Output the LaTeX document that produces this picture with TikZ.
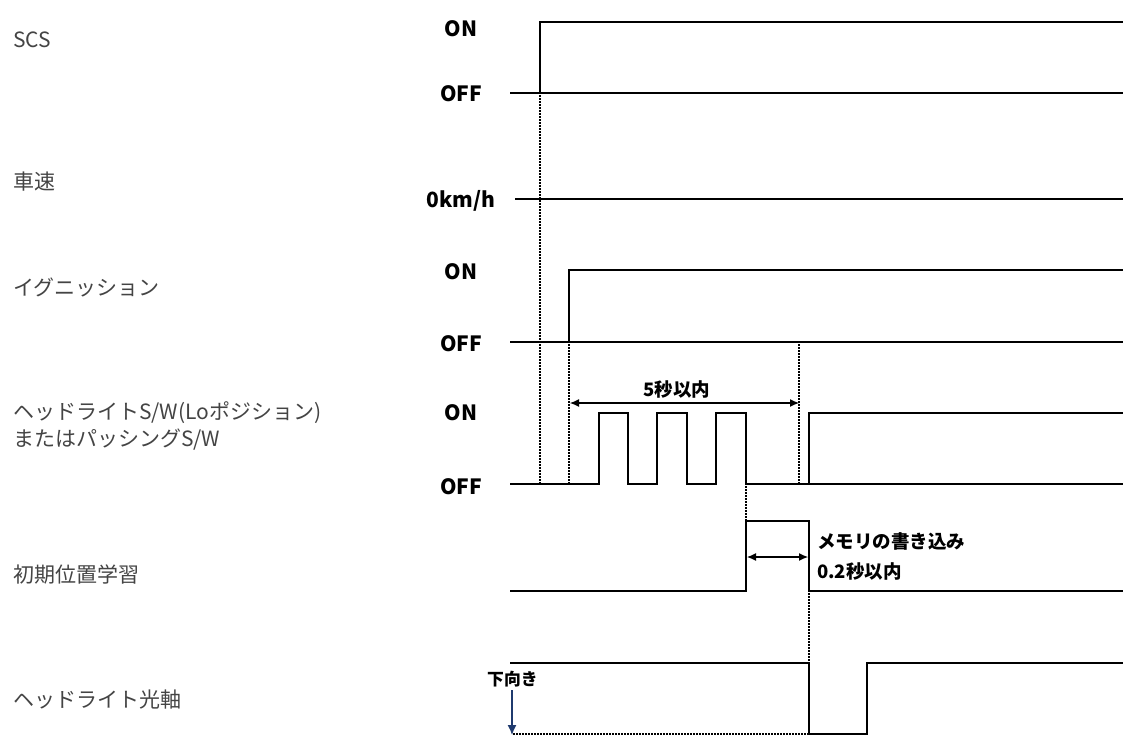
\documentclass[tikz,border=0pt]{standalone}
\usepackage{fontspec}
\setmainfont{Noto Sans CJK JP}
\usetikzlibrary{arrows.meta}
\definecolor{labgray}{HTML}{444444}
\definecolor{navyarrow}{HTML}{1F3A6E}
\begin{document}
\begin{tikzpicture}[x=1pt,y=-1pt,
  sig/.style={line width=2.8pt, line join=miter, line cap=rect},
  guide/.style={dash pattern=on 1.5pt off 1.5pt, line width=1.2pt},
  dim/.style={line width=1.1pt, {Latex[length=9pt,width=8pt]}-{Latex[length=9pt,width=8pt]}},
  lbl/.style={anchor=west, text=labgray, inner sep=0pt, font=\fontsize{21}{24}\selectfont},
  lvl/.style={inner sep=0pt, font=\bfseries\fontsize{21}{24}\selectfont},
  note/.style={anchor=west, inner sep=0pt, font=\bfseries\fontsize{18.5}{22}\selectfont}]
\useasboundingbox (0,0) rectangle (1123,736);
% left labels
\node[lbl] (lscs) at (13,40) {SCS};
\node[lbl] (lspd) at (13,182) {車速};
\node[lbl] (lign) at (13,287) {イグニッション};
\node[lbl] (lhs1) at (13,413) {ヘッドライトS/W(Loポジション)};
\node[lbl] (lhs2) at (13,440) {またはパッシングS/W};
\node[lbl] (lini) at (13,574) {初期位置学習};
\node[lbl] (lax) at (13,700) {ヘッドライト光軸};
% level labels
\node[lvl] (on1) at (461,29) {ON};
\node[lvl] (off1) at (461,94) {OFF};
\node[lvl] (kmh) at (461,201) {0km/h};
\node[lvl] (on2) at (461,272) {ON};
\node[lvl] (off2) at (461,344) {OFF};
\node[lvl] (on3) at (461,413) {ON};
\node[lvl] (off3) at (461,487) {OFF};
% SCS
\draw[sig] (511,93) -- (540,93) -- (540,22) -- (1123,22);
\draw[sig] (540,93) -- (1123,93);
% speed
\draw[sig] (516,199) -- (1123,199);
% ignition
\draw[sig] (511,342) -- (569,342) -- (569,270) -- (1123,270);
\draw[sig] (569,342) -- (1123,342);
% headlight switch
\draw[sig] (511,484) -- (599,484) -- (599,413) -- (628,413) -- (628,484)
  -- (657,484) -- (657,413) -- (687,413) -- (687,484)
  -- (716,484) -- (716,413) -- (746,413) -- (746,484)
  -- (809,484) -- (809,413) -- (1123,413);
\draw[sig] (809,484) -- (1123,484);
% initial position learning
\draw[sig] (511,591) -- (746,591) -- (746,521) -- (809,521) -- (809,591) -- (1123,591);
% headlight axis
\draw[sig] (511,663) -- (809,663) -- (809,734) -- (867,734) -- (867,663) -- (1123,663);
% guides
\coordinate (g1a) at (540,95); \coordinate (g1b) at (540,483);
\coordinate (g2a) at (569,344); \coordinate (g2b) at (569,483);
\coordinate (g3a) at (799,344); \coordinate (g3b) at (799,483);
\coordinate (g4a) at (746,486); \coordinate (g4b) at (746,521);
\coordinate (g5a) at (809,593); \coordinate (g5b) at (809,663);
\coordinate (g6a) at (513,734); \coordinate (g6b) at (808,734);
\draw[guide] (g1a) -- (g1b);
\draw[guide] (g2a) -- (g2b);
\draw[guide] (g3a) -- (g3b);
\draw[guide] (g4a) -- (g4b);
\draw[guide] (g5a) -- (g5b);
\draw[guide] (g6a) -- (g6b);
% dimension arrows
\coordinate (d1a) at (570,403); \coordinate (d1b) at (799,403);
\draw[dim] (d1a) -- (d1b);
\node[inner sep=0pt, font=\bfseries\fontsize{18.5}{22}\selectfont] (t5s) at (677,389) {5秒以内};
\coordinate (d2a) at (747,557); \coordinate (d2b) at (808,557);
\draw[dim] (d2a) -- (d2b);
\node[note] (tmem) at (817,541) {メモリの書き込み};
\node[note] (t02) at (817,571) {0.2秒以内};
% downward
\node[note, font=\bfseries\fontsize{16.8}{20}\selectfont] (tdown) at (487,679) {下向き};
\coordinate (a1) at (512,690); \coordinate (a2) at (512,735);
\draw[navyarrow, line width=1.3pt, -{Latex[length=10pt,width=9pt]}] (a1) -- (a2);
\end{tikzpicture}
\end{document}
